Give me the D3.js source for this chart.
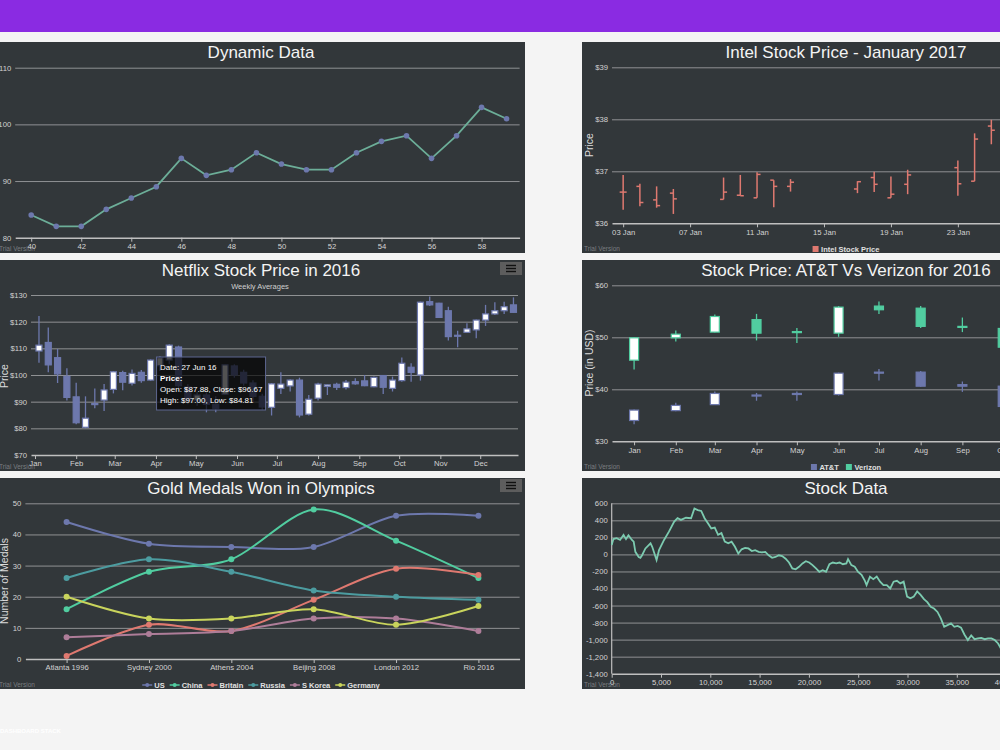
<!DOCTYPE html>
<html>
<head>
<meta charset="utf-8">
<script src="https://cdn.jsdelivr.net/npm/d3@7"></script>
<style>
  body { margin: 0; background: #f4f4f4; }
  svg text { font-family: "Liberation Sans", Arial, sans-serif; }
</style>
</head>
<body>
<svg id="dash" width="1000" height="750"></svg>
<script>
// ---- data ----
var dynX = [40,41,42,43,44,45,46,47,48,49,50,51,52,53,54,55,56,57,58,59];
var dynY = [84,82,82,85,87,89,94,91,92,95,93,92,92,95,97,98,94,98,103,101];

var intelDates = ["2017-01-03","2017-01-04","2017-01-05","2017-01-06","2017-01-09","2017-01-10","2017-01-11","2017-01-12","2017-01-13","2017-01-17","2017-01-18","2017-01-19","2017-01-20","2017-01-23","2017-01-24","2017-01-25"];
var intelOpen  = [36.60,36.71,36.45,36.58,36.46,36.54,36.49,36.83,36.71,36.66,36.88,36.49,36.75,37.07,36.81,37.87];
var intelHigh  = [36.93,36.76,36.71,36.66,36.88,36.93,36.98,36.83,36.85,36.81,36.99,36.90,37.03,37.21,37.73,37.99];
var intelLow   = [36.26,36.33,36.30,36.18,36.46,36.53,36.49,36.31,36.61,36.58,36.60,36.49,36.56,36.53,36.81,37.52];
var intelClose = [36.60,36.40,36.34,36.47,36.60,36.53,36.94,36.71,36.79,36.80,36.75,36.56,36.93,36.76,37.62,37.79];

var nflxDates = ["2016-01-04","2016-01-11","2016-01-18","2016-01-25","2016-02-01","2016-02-08","2016-02-15","2016-02-22","2016-02-29","2016-03-07","2016-03-14","2016-03-21","2016-03-28","2016-04-04","2016-04-11","2016-04-18","2016-04-25","2016-05-02","2016-05-09","2016-05-16","2016-05-23","2016-05-30","2016-06-06","2016-06-13","2016-06-20","2016-06-27","2016-07-04","2016-07-11","2016-07-18","2016-07-25","2016-08-01","2016-08-08","2016-08-15","2016-08-22","2016-08-29","2016-09-05","2016-09-12","2016-09-19","2016-09-26","2016-10-03","2016-10-10","2016-10-17","2016-10-24","2016-10-31","2016-11-07","2016-11-14","2016-11-21","2016-11-28","2016-12-05","2016-12-12","2016-12-19","2016-12-26"];
var nflxOpen  = [109,112.2,106.5,99.5,91.8,80.4,88.9,90.6,94.6,100.9,96.9,101,98.1,103.5,105.6,110.5,95.5,90.5,92.5,89,92.8,103.4,101,97,92,87.88,95,95.9,98.1,85.3,91.3,95.7,96.5,95.3,97.5,97.8,95.6,99.8,95,97.9,102.9,100,127.5,126.9,124.1,114.9,116,116.9,120.6,122.9,124.1,126.3];
var nflxHigh  = [122.1,117.8,109.8,102.5,97.1,92,94.9,96.6,101.5,101.6,102.1,101.9,105.9,107,111.5,111,96.5,93.5,93.5,92,103.9,104,102,98,93,97,101,98.4,99,92.5,97.1,96.4,97.1,98.1,98.8,100,99.4,100,99.4,106.6,104.4,127.5,129.4,127.1,125.6,116.6,119.4,120.8,126.3,127.3,127.5,129.1];
var nflxLow   = [104.6,101,97,90.4,81.5,80,87.5,86.5,93.1,94.3,96.1,97.1,97.8,101.5,104,94,89,88.5,86,86,92.5,99,96,90,87,84.81,92.9,93.8,84.1,84.8,90.4,92.5,94.4,94.6,96.3,95.8,95.4,92.9,93.8,97.5,97.5,97.9,125.9,121.4,112.9,110.4,115.9,113.8,118.4,122.5,122.9,123.4];
var nflxClose = [111.2,103.8,100.4,91.6,82.1,83.8,89.3,94.4,101.2,97.3,100.6,97.9,105.6,106.5,111.2,96,90.5,92.5,89,87.5,103.8,100,97,92,88,96.67,96.6,98.1,85,90.9,96.6,96.3,95.4,97.3,96.7,96,99.1,95.4,98.1,104.4,101,127.3,126.3,121.6,114.4,114.6,117.3,120.6,122.9,124.1,125.6,123.5];

var telMonths = ["2016-01-01","2016-02-01","2016-03-01","2016-04-01","2016-05-01","2016-06-01","2016-07-01","2016-08-01","2016-09-01","2016-10-01"];
var attOpen  = [34.0,35.9,37.05,38.9,39.0,39.0,43.2,43.3,40.9,40.6];
var attHigh  = [36.1,37.4,39.6,39.3,39.6,43.2,43.9,43.5,41.5,40.7];
var attLow   = [33.3,35.8,37.0,37.8,37.8,38.8,41.7,40.5,39.5,36.4];
var attClose = [36.0,36.9,39.2,38.7,39.2,43.1,43.3,40.6,40.6,36.7];
var vzOpen  = [45.6,49.9,51.0,53.4,51.1,50.8,56.0,55.6,52.1,51.7];
var vzHigh  = [50.0,51.3,54.4,54.5,51.8,56.0,56.9,56.0,53.8,51.9];
var vzLow   = [43.8,49.2,50.9,49.4,48.9,50.1,54.5,51.8,51.0,47.6];
var vzClose = [49.9,50.6,54.0,50.8,50.9,55.8,55.3,52.1,51.9,48.1];

var games = ["Atlanta 1996","Sydney 2000","Athens 2004","Beijing 2008","London 2012","Rio 2016"];
var countries = ["US","China","Britain","Russia","S Korea","Germany"];
var goldUS      = [44,37,36,36,46,46];
var goldChina   = [16,28,32,48,38,26];
var goldBritain = [1,11,9,19,29,27];
var goldRussia  = [26,32,28,22,20,19];
var goldKorea   = [7,8,9,13,13,9];
var goldGermany = [20,13,13,16,11,17];

var stockX = [0,170,500,850,1200,1450,1700,2050,2230,2400,2740,2910,3080,3420,3940,4110,4450,4550,4800,5310,5820,6340,6680,7020,7530,8050,8390,8730,9080,9420,9760,10100,10450,10790,11130,11470,11820,12160,12500,12840,13180,13530,13870,14210,14550,14900,15240,15580,15920,16270,16610,16950,17290,17640,17980,18320,18660,19000,19350,19690,20030,20370,20720,21060,21400,21740,22080,22430,22770,23110,23450,23800,23970,24310,24650,24990,25340,25680,25850,26190,26530,26880,27220,27560,27900,28250,28590,28930,29270,29610,29960,30300,30640,30980,31330,31670,32010,32350,32690,33040,33380,33720,34060,34410,34750,35090,35430,35770,36120,36460,36800,37140,37480,37830,38170,38510,38850,39190,39540,39880,40200];
var stockY = [110,180,190,170,230,180,225,170,150,30,-30,-40,-10,70,130,90,-30,-65,50,170,270,385,425,405,430,425,540,520,510,425,365,305,315,230,250,150,130,150,90,10,60,75,70,40,50,30,25,30,-10,-40,-30,-10,-20,-50,-95,-165,-175,-145,-105,-80,-95,-125,-165,-205,-185,-205,-115,-95,-105,-95,-115,-105,-55,-125,-145,-205,-240,-310,-360,-260,-290,-260,-320,-360,-360,-400,-320,-310,-340,-320,-495,-515,-495,-435,-475,-525,-560,-615,-635,-675,-750,-850,-830,-810,-850,-840,-860,-940,-1005,-950,-995,-985,-980,-995,-985,-985,-1005,-1045,-1120,-1175,-1200];

// ---- styles ----
var FONT = "'Liberation Sans', Arial, sans-serif";
var PANEL = "#32373a", GRID = "#8f9193", AXIS = "#bfbfbf", LABEL = "#d2d2d2", TITLE = "#f4f4f4";
var BLUE = "#6D78AD", GREEN = "#51CDA0", RED = "#DF7970", TEAL = "#4C9CA0", MAUVE = "#AE7D99", OLIVE = "#C9D45C";
var PW = 528, PH = 211, LBL = 7.7;
var parse = d3.timeParse("%Y-%m-%d");
var loc = d3.formatLocale({decimal: ".", thousands: ",", grouping: [3], currency: ["$", ""], minus: "-"});

var svg = d3.select("#dash");

// header bar
svg.append("rect").attr("x", 0).attr("y", 0).attr("width", 1000).attr("height", 32).attr("fill", "#8a2be2");
svg.append("text").attr("x", 0).attr("y", 733).attr("fill", "#ffffff").attr("font-size", 6).attr("font-weight", "bold").text("DASHBOARD STACK");

function panel(px, py, title) {
    svg.append("rect").attr("x", px).attr("y", py).attr("width", PW).attr("height", PH).attr("fill", PANEL);
    svg.append("text").attr("x", px + PW / 2).attr("y", py + 15.5).attr("text-anchor", "middle")
        .attr("fill", TITLE).attr("font-size", 17).text(title);
    svg.append("text").attr("x", px + 2).attr("y", py + 209).attr("fill", "#7a7d80")
        .attr("font-size", 6.5).text("Trial Version");
}

function grid(y, ticks, x0, x1) {
    svg.append("g").attr("transform", "translate(" + x0 + ",0)")
        .call(d3.axisLeft(y).tickValues(ticks).tickSize(-(x1 - x0)).tickFormat(""))
        .call(function (g) { g.select(".domain").remove(); })
        .selectAll("line").attr("stroke", GRID).attr("stroke-width", 1);
}

function yLabels(y, ticks, x0, fmt) {
    svg.append("g").attr("transform", "translate(" + x0 + ",0)")
        .call(d3.axisLeft(y).tickValues(ticks).tickSize(0).tickPadding(4).tickFormat(fmt))
        .attr("font-size", LBL).attr("font-family", FONT)
        .call(function (g) { g.select(".domain").remove(); })
        .selectAll("text").attr("fill", LABEL);
}

function xAxis(axis, yPos) {
    svg.append("g").attr("transform", "translate(0," + yPos + ")")
        .call(axis.tickSize(4).tickSizeOuter(0).tickPadding(2))
        .attr("font-size", LBL).attr("font-family", FONT)
        .call(function (g) {
            g.select(".domain").attr("stroke", AXIS).attr("stroke-width", 1.5);
            g.selectAll(".tick line").attr("stroke", AXIS);
            g.selectAll("text").attr("fill", LABEL);
        });
}

function yTitle(x, y, text) {
    svg.append("text").attr("transform", "translate(" + x + "," + y + ") rotate(-90)")
        .attr("text-anchor", "middle").attr("fill", "#dcdcdc").attr("font-size", 10.5).text(text);
}

function menuButton(x, y) {
    svg.append("rect").attr("x", x).attr("y", y).attr("width", 22).attr("height", 13).attr("fill", "#5d5d5d");
    [0, 1, 2].forEach(function (i) {
        svg.append("line").attr("x1", x + 6).attr("x2", x + 16).attr("y1", y + 3.5 + i * 3).attr("y2", y + 3.5 + i * 3)
            .attr("stroke", "#111").attr("stroke-width", 1.4);
    });
}

function legend(cx, cy, items, kind, gap) {
    var g = svg.append("g");
    var x = 0;
    items.forEach(function (it) {
        var item = g.append("g").attr("transform", "translate(" + x + ",0)");
        var w;
        if (kind === "line") {
            item.append("line").attr("x1", 0).attr("x2", 10).attr("stroke", it.color).attr("stroke-width", 1.5);
            item.append("circle").attr("cx", 5).attr("r", 2).attr("fill", it.color);
            w = 12;
        } else {
            item.append("rect").attr("x", 0).attr("y", -3).attr("width", 6).attr("height", 6).attr("fill", it.color);
            w = 8.5;
        }
        var t = item.append("text").attr("x", w).attr("y", 2.7).attr("fill", "#e0e0e0")
            .attr("font-size", 7.5).attr("font-weight", "bold").text(it.name);
        x += w + t.node().getComputedTextLength() + gap;
    });
    g.attr("transform", "translate(" + (cx - (x - gap) / 2) + "," + cy + ")");
}

function candles(x, y, dates, open, high, low, close, color, width) {
    var g = svg.append("g");
    dates.forEach(function (d, i) {
        var cx = x(parse(d));
        g.append("line").attr("x1", cx).attr("x2", cx).attr("y1", y(high[i])).attr("y2", y(low[i]))
            .attr("stroke", color).attr("stroke-width", 1.3);
        var top = y(Math.max(open[i], close[i])), bot = y(Math.min(open[i], close[i]));
        g.append("rect").attr("x", cx - width / 2).attr("y", top).attr("width", width)
            .attr("height", Math.max(1, bot - top))
            .attr("fill", close[i] >= open[i] ? "#ffffff" : color)
            .attr("stroke", color).attr("stroke-width", 1.2);
    });
}

// ================= 1. Dynamic Data =================
(function () {
    panel(-3, 42, "Dynamic Data");
    var x = d3.scaleLinear().domain([39.36, 59.52]).range([15.2, 519.6]);
    var y = d3.scaleLinear().domain([80, 110]).range([237.7, 67.7]);
    grid(y, [90, 100, 110], 15.2, 519.6);
    yLabels(y, [80, 90, 100, 110], 15.2, d3.format("d"));
    xAxis(d3.axisBottom(x).tickValues(d3.range(40, 59, 2)).tickFormat(d3.format("d")), 237.7);
    svg.append("path").datum(dynX).attr("fill", "none").attr("stroke", "#6cae98").attr("stroke-width", 1.8)
        .attr("d", d3.line().x(function (d) { return x(d); }).y(function (d, i) { return y(dynY[i]); }));
    svg.selectAll(".dynpt").data(dynX).enter().append("circle").attr("class", "dynpt")
        .attr("cx", function (d) { return x(d); }).attr("cy", function (d, i) { return y(dynY[i]); })
        .attr("r", 2.8).attr("fill", BLUE);
})();

// ================= 2. Intel OHLC =================
(function () {
    panel(582, 42, "Intel Stock Price - January 2017");
    var x = d3.scaleTime().domain([new Date(2017, 0, 2, 8), new Date(2017, 0, 31, 19)]).range([612, 1105]);
    var y = d3.scaleLinear().domain([36, 39]).range([223.3, 67.3]);
    grid(y, [37, 38, 39], 612, 1105);
    yLabels(y, [36, 37, 38, 39], 612, function (d) { return "$" + d; });
    var ticks = d3.range(0, 8).map(function (i) { return new Date(2017, 0, 3 + i * 4); });
    xAxis(d3.axisBottom(x).tickValues(ticks).tickFormat(d3.timeFormat("%d %b")), 223.3);
    yTitle(593, 145, "Price");
    var g = svg.append("g").attr("stroke", RED).attr("stroke-width", 1.5);
    intelDates.forEach(function (d, i) {
        var cx = x(parse(d));
        g.append("line").attr("x1", cx).attr("x2", cx).attr("y1", y(intelHigh[i])).attr("y2", y(intelLow[i]));
        g.append("line").attr("x1", cx - 3.5).attr("x2", cx).attr("y1", y(intelOpen[i])).attr("y2", y(intelOpen[i]));
        g.append("line").attr("x1", cx).attr("x2", cx + 3.5).attr("y1", y(intelClose[i])).attr("y2", y(intelClose[i]));
    });
    legend(846, 249, [{name: "Intel Stock Price", color: RED}], "box", 6);
})();

// ================= 3. Netflix candlestick =================
(function () {
    panel(-3, 260, "Netflix Stock Price in 2016");
    svg.append("text").attr("x", 260).attr("y", 289).attr("text-anchor", "middle").attr("fill", "#cfcfcf")
        .attr("font-size", 7.5).text("Weekly Averages");
    menuButton(500, 262);
    var x = d3.scaleTime().domain([new Date(2015, 11, 29), new Date(2016, 11, 29, 10)]).range([31, 518]);
    var y = d3.scaleLinear().domain([70, 130]).range([455, 295]);
    grid(y, d3.range(80, 131, 10), 31, 518);
    yLabels(y, d3.range(70, 131, 10), 31, function (d) { return "$" + d; });
    xAxis(d3.axisBottom(x).tickValues(d3.timeMonth.range(new Date(2016, 0, 1), new Date(2016, 11, 2)))
        .tickFormat(d3.timeFormat("%b")), 455);
    yTitle(8, 376, "Price");
    candles(x, y, nflxDates, nflxOpen, nflxHigh, nflxLow, nflxClose, BLUE, 6);

    // tooltip on the 27 Jun 16 candle
    var k = nflxDates.indexOf("2016-06-27");
    var tx = x(parse(nflxDates[k])) - 115, ty = y(nflxHigh[k]) - 26;
    var tip = svg.append("g").attr("transform", "translate(" + tx + "," + ty + ")");
    tip.append("rect").attr("width", 109).attr("height", 53).attr("fill", "#000").attr("fill-opacity", 0.68)
        .attr("stroke", "#5d6690").attr("stroke-width", 1);
    var f = d3.format(".2f");
    var lines = [
        ["Date: " + d3.timeFormat("%d %b %y")(parse(nflxDates[k])), "normal"],
        ["Price:", "bold"],
        ["Open: $" + f(nflxOpen[k]) + ", Close: $" + f(nflxClose[k]), "normal"],
        ["High: $" + f(nflxHigh[k]) + ", Low: $" + f(nflxLow[k]), "normal"]
    ];
    lines.forEach(function (l, i) {
        tip.append("text").attr("x", 3.5).attr("y", 12.5 + i * 11.3).attr("fill", "#ffffff")
            .attr("font-size", 8).attr("font-weight", l[1]).text(l[0]);
    });
})();

// ================= 4. AT&T vs Verizon =================
(function () {
    panel(582, 260, "Stock Price: AT&T Vs Verizon for 2016");
    var x = d3.scaleTime().domain([new Date(2015, 11, 15, 14), new Date(2016, 11, 16)]).range([612, 1105]);
    var y = d3.scaleLinear().domain([30, 60]).range([441.3, 285.3]);
    grid(y, [40, 50, 60], 612, 1105);
    yLabels(y, [30, 40, 50, 60], 612, function (d) { return "$" + d; });
    xAxis(d3.axisBottom(x).tickValues(d3.timeMonth.range(new Date(2016, 0, 1), new Date(2016, 11, 2)))
        .tickFormat(d3.timeFormat("%b")), 441.3);
    yTitle(593, 363, "Price (in USD)");
    candles(x, y, telMonths, attOpen, attHigh, attLow, attClose, BLUE, 9);
    candles(x, y, telMonths, vzOpen, vzHigh, vzLow, vzClose, GREEN, 9);
    legend(846, 467, [{name: "AT&T", color: BLUE}, {name: "Verizon", color: GREEN}], "box", 7);
})();

// ================= 5. Olympics =================
(function () {
    panel(-3, 478, "Gold Medals Won in Olympics");
    menuButton(500, 479);
    var x = d3.scaleLinear().domain([-0.5, 5.5]).range([25.4, 519.6]);
    var y = d3.scaleLinear().domain([0, 50]).range([659, 503.3]);
    grid(y, [10, 20, 30, 40, 50], 25.4, 519.6);
    yLabels(y, [0, 10, 20, 30, 40, 50], 25.4, d3.format("d"));
    xAxis(d3.axisBottom(x).tickValues(d3.range(0, 6)).tickFormat(function (d) { return games[d]; }), 659);
    yTitle(8, 581, "Number of Medals");
    var series = [goldUS, goldChina, goldBritain, goldRussia, goldKorea, goldGermany];
    var colors = [BLUE, GREEN, RED, TEAL, MAUVE, OLIVE];
    var line = d3.line().x(function (d, i) { return x(i); }).y(function (d) { return y(d); })
        .curve(d3.curveCardinal.tension(0.1));
    series.forEach(function (s, j) {
        svg.append("path").datum(s).attr("fill", "none").attr("stroke", colors[j]).attr("stroke-width", 2).attr("d", line);
    });
    series.forEach(function (s, j) {
        svg.selectAll(".pt" + j).data(s).enter().append("circle")
            .attr("cx", function (d, i) { return x(i); }).attr("cy", function (d) { return y(d); })
            .attr("r", 3).attr("fill", colors[j]);
    });
    legend(261, 685, countries.map(function (c, j) { return {name: c, color: colors[j]}; }), "line", 5);
})();

// ================= 6. Stock Data =================
(function () {
    panel(582, 478, "Stock Data");
    var x = d3.scaleLinear().domain([0, 50000]).range([611.7, 1104.7]);
    var y = d3.scaleLinear().domain([-1400, 600]).range([673.7, 503.3]);
    var ticks = d3.range(-1200, 601, 200);
    grid(y, ticks, 611.7, 1104.7);
    yLabels(y, d3.range(-1400, 601, 200), 611.7, loc.format(","));
    svg.append("line").attr("x1", 611.7).attr("x2", 611.7).attr("y1", 503.3).attr("y2", 673.7)
        .attr("stroke", AXIS).attr("stroke-width", 1.2);
    xAxis(d3.axisBottom(x).tickValues(d3.range(0, 50001, 5000)).tickFormat(loc.format(",")), 673.7);
    svg.append("path").datum(stockX).attr("fill", "none").attr("stroke", "#7ccbb0").attr("stroke-width", 1.8)
        .attr("d", d3.line().x(function (d) { return x(d); }).y(function (d, i) { return y(stockY[i]); }));
})();
</script>
</body>
</html>
